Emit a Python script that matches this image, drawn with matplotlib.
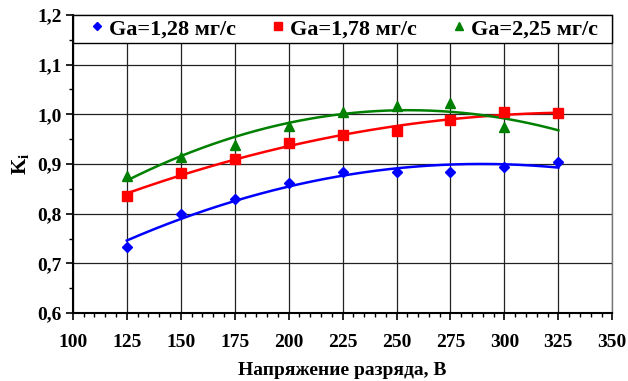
import numpy as np
import matplotlib.pyplot as plt
from matplotlib.patches import Rectangle
from matplotlib.ticker import MultipleLocator, FuncFormatter

plt.rcParams['font.family'] = ['Liberation Serif', 'DejaVu Serif']
plt.rcParams['font.weight'] = 'bold'
plt.rcParams['axes.labelweight'] = 'bold'
plt.rcParams['mathtext.fontset'] = 'custom'
plt.rcParams['mathtext.bf'] = 'Liberation Serif:bold'

voltage = [125, 150, 175, 200, 225, 250, 275, 300, 325]
k_128 = [0.734, 0.799, 0.830, 0.862, 0.883, 0.884, 0.883, 0.895, 0.905]
k_178 = [0.836, 0.881, 0.911, 0.942, 0.958, 0.966, 0.989, 1.004, 1.003]
voltage_225 = [125, 150, 175, 200, 225, 250, 275, 300]
k_225 = [0.876, 0.915, 0.938, 0.976, 1.005, 1.017, 1.023, 0.975]

labels = ['Ga=1,28 мг/с', 'Ga=1,78 мг/с', 'Ga=2,25 мг/с']

fig = plt.figure(figsize=(6.28, 3.81), dpi=100)
ax = fig.add_axes([0.116, 0.178, 0.859, 0.783])

series = [
    (voltage, k_128, 'blue', 'D', 5.5),
    (voltage, k_178, 'red', 's', 7),
    (voltage_225, k_225, 'green', '^', 7),
]

xfit = np.linspace(125, 325, 200)
for (xs, ys, col, mk, ms), lab in zip(series, labels):
    # Excel-style 2nd order trendline
    coef = np.polyfit(xs, ys, 2)
    ax.plot(xfit, np.polyval(coef, xfit), color=col, lw=1.8, zorder=3)
    ax.plot(xs, ys, ls='none', marker=mk, ms=ms, color=col, label=lab, zorder=4)

ax.set_xlim(100, 350)
ax.set_ylim(0.6, 1.2)
ax.xaxis.set_major_locator(MultipleLocator(25))
ax.xaxis.set_minor_locator(MultipleLocator(5))
ax.yaxis.set_major_locator(MultipleLocator(0.1))
ax.yaxis.set_minor_locator(MultipleLocator(0.05))
ax.yaxis.set_major_formatter(FuncFormatter(lambda v, p: f'{v:.1f}'.replace('.', ',')))
ax.grid(True, which='major', color='#222222', lw=0.9)
ax.tick_params(which='major', direction='out', length=5, width=1.2, labelsize=14)
ax.tick_params(axis='x', which='major', pad=10)
ax.tick_params(axis='y', which='major', pad=3)
ax.tick_params(which='minor', direction='out', length=3, width=1)
for s in ['left', 'bottom']:
    ax.spines[s].set_linewidth(1.5)
    ax.spines[s].set_color('black')
for s in ['right', 'top']:
    ax.spines[s].set_color('#777777')
    ax.spines[s].set_linewidth(1)

ax.set_xlabel('Напряжение разряда, В', fontsize=14, labelpad=8)
ax.set_ylabel('K$_\\mathbf{i}$', fontsize=15, labelpad=4)

# legend box spanning the full width of the plot, like in Excel
box = Rectangle((0, 0.906), 1, 0.094, transform=ax.transAxes, facecolor='white',
                edgecolor='black', lw=1, zorder=5, clip_on=False)
ax.add_patch(box)
leg = ax.legend(loc='center left', bbox_to_anchor=(0.034, 0.906, 0.94, 0.094), mode='expand',
                ncol=3, borderaxespad=0, frameon=False, numpoints=1,
                handlelength=0.5, handletextpad=0.3, fontsize=16,
                borderpad=0, markerscale=0.8)
leg.set_zorder(6)

fig.savefig('out.png', dpi=100)
